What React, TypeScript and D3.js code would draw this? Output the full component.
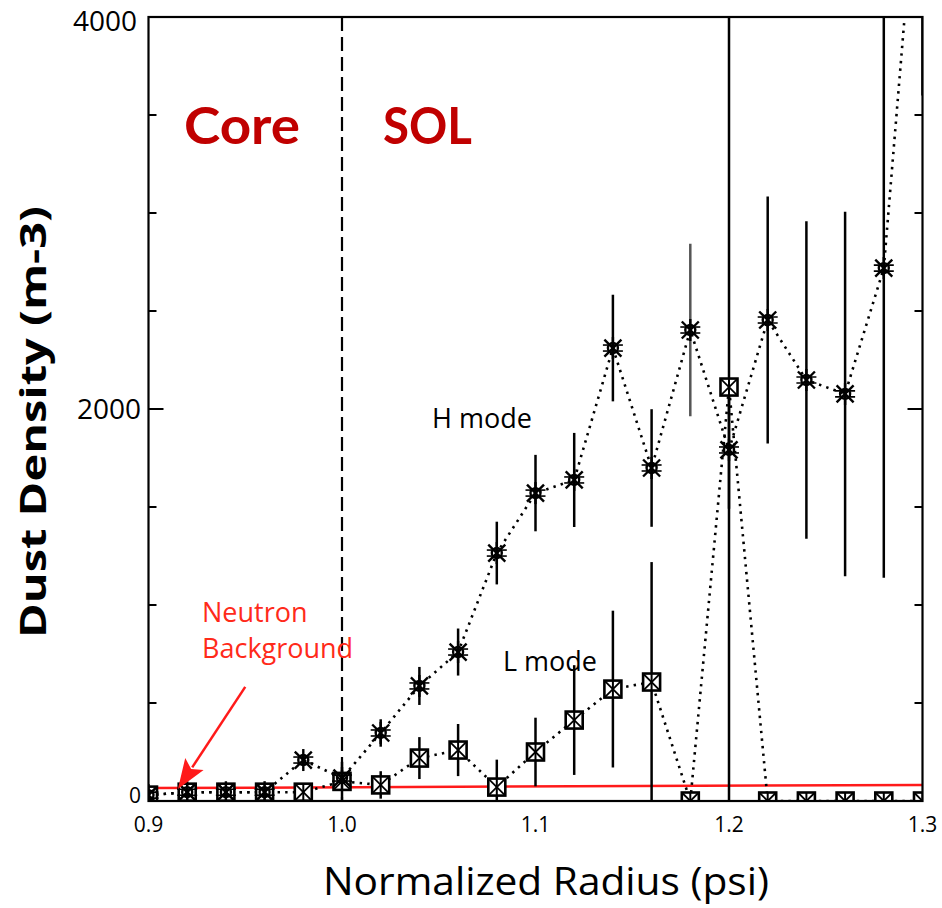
import React from "react";
import * as d3 from "d3";

const RADIUS = [0.9, 0.92, 0.94, 0.96, 0.98, 1.0, 1.02, 1.04, 1.06, 1.08, 1.1, 1.12, 1.14, 1.16, 1.18, 1.2, 1.22, 1.24, 1.26, 1.28, 1.3];
const H_MODE = [30, 45, 45, 45, 209, 117, 347, 587, 760, 1265, 1571, 1638, 2311, 1699, 2403, 1791, 2454, 2148, 2077, 2719, 5100];
const H_ERR = [0, 0, 0, 0, 20, 40, 70, 97, 120, 160, 195, 240, 272, 300, 440, 300, 630, 810, 930, 1580, 1500];
const L_MODE = [30, 45, 45, 45, 45, 100, 82, 219, 260, 71, 250, 413, 571, 607, 0, 2112, 0, 0, 0, 0, 0];
const L_ERR = [0, 0, 0, 0, 0, 100, 70, 107, 133, 140, 175, 280, 400, 612, 0, 2300, 0, 0, 0, 0, 0];
const BACKGROUND_X = [0.9, 1.3];
const BACKGROUND_Y = [66, 82];
const Y_TICKS = [0, 500, 1000, 1500, 2000, 2500, 3000, 3500, 4000];
const Y_LABELS = [0, 2000, 4000];
const X_LABELS = [0.9, 1.0, 1.1, 1.2, 1.3];

const W = 942;
const H = 908;

export default function App() {
  const x = d3.scaleLinear().domain([0.9, 1.3]).range([148.5, 922.5]);
  const y = d3.scaleLinear().domain([0, 4000]).range([801, 17]);
  const [x0, x1] = x.range();
  const [yb, yt] = y.range();

  const hPts = RADIUS.map((r, i) => [r, H_MODE[i]] as [number, number]);
  const lPts = RADIUS.map((r, i) => [r, L_MODE[i]] as [number, number]);
  const line = d3.line<[number, number]>().x((d) => x(d[0])).y((d) => y(d[1]));
  const bgLine = d3.line<number>().x((d) => x(d)).y((_, i) => y(BACKGROUND_Y[i]));

  // arrow in data coordinates
  const tail = [x(0.95), y(582)];
  const tip = [x(0.9152), y(61)];
  const dx = tip[0] - tail[0];
  const dy = tip[1] - tail[1];
  const len = Math.hypot(dx, dy);
  const ux = dx / len, uy = dy / len;
  const hl = 30, hw = 11;
  const bx = tip[0] - ux * hl, by = tip[1] - uy * hl;
  const head = `${tip[0]},${tip[1]} ${bx - uy * hw},${by + ux * hw} ${bx + ux * 6},${by + uy * 6} ${bx + uy * hw},${by - ux * hw}`;

  const fontSans = "'Open Sans', 'DejaVu Sans', sans-serif";

  return (
    <svg width={W} height={H} style={{ position: "absolute", left: 0, top: 0, background: "#fff" }}>
      <defs>
        <clipPath id="plot">
          <rect x={x0} y={yt} width={x1 - x0} height={yb - yt} />
        </clipPath>
      </defs>
      <rect x={0} y={0} width={W} height={H} fill="#fff" />

      <g clipPath="url(#plot)">
        {/* neutron background */}
        <path d={bgLine(BACKGROUND_X) || ""} stroke="#ff1a1a" strokeWidth={2.5} fill="none" />
        {/* dotted lines */}
        <path d={line(hPts) || ""} fill="none" stroke="#000" strokeWidth={2.6} strokeDasharray="2.4 5.2" />
        <path d={line(lPts) || ""} fill="none" stroke="#000" strokeWidth={2.6} strokeDasharray="2.4 5.2" />
        {/* error bars */}
        {RADIUS.map((r, i) =>
          H_ERR[i] > 0 ? (
            <line key={"he" + i} x1={x(r)} x2={x(r)} y1={y(H_MODE[i] - H_ERR[i])} y2={y(H_MODE[i] + H_ERR[i])}
              stroke={r === 1.18 ? "#555" : "#000"} strokeWidth={2.5} />
          ) : null
        )}
        {RADIUS.map((r, i) =>
          L_ERR[i] > 0 ? (
            <line key={"le" + i} x1={x(r)} x2={x(r)} y1={y(L_MODE[i] - L_ERR[i])} y2={y(L_MODE[i] + L_ERR[i])}
              stroke="#000" strokeWidth={2.5} />
          ) : null
        )}
        {/* L mode markers: boxed X */}
        {RADIUS.map((r, i) => {
          const cx = x(r), cy = y(L_MODE[i]);
          const s = 8.5;
          return (
            <g key={"lm" + i} stroke="#000" strokeWidth={2.6}>
              <rect x={cx - s} y={cy - s} width={2 * s} height={2 * s} fill="#fff" />
              <line x1={cx - s} y1={cy - s} x2={cx + s} y2={cy + s} strokeWidth={1.8} />
              <line x1={cx - s} y1={cy + s} x2={cx + s} y2={cy - s} strokeWidth={1.8} />
              <line x1={cx} y1={cy - s} x2={cx} y2={cy + s} strokeWidth={2} />
            </g>
          );
        })}
        {/* H mode markers: star */}
        {RADIUS.map((r, i) => {
          const cx = x(r), cy = y(H_MODE[i]);
          const s = 8.5;
          return (
            <g key={"hm" + i} stroke="#000" strokeWidth={2.4} fill="none">
              <line x1={cx - s} y1={cy - s} x2={cx + s} y2={cy + s} />
              <line x1={cx - s} y1={cy + s} x2={cx + s} y2={cy - s} />
              <line x1={cx - 10} y1={cy - 3} x2={cx + 10} y2={cy - 3} strokeWidth={1.6} />
              <line x1={cx - 10} y1={cy + 3} x2={cx + 10} y2={cy + 3} strokeWidth={1.6} />
              <line x1={cx} y1={cy - 11} x2={cx} y2={cy + 11} />
              <circle cx={cx} cy={cy} r={5} />
            </g>
          );
        })}
      </g>

      {/* core / SOL separatrix */}
      <line x1={x(1.0)} x2={x(1.0)} y1={yt} y2={yb} stroke="#000" strokeWidth={2.2} strokeDasharray="14 6" />

      {/* frame */}
      <rect x={x0} y={yt} width={x1 - x0} height={yb - yt} fill="none" stroke="#000" strokeWidth={2.2} />
      {Y_TICKS.map((t) => {
        const l = Y_LABELS.includes(t) ? 15 : 8;
        return (
          <g key={"yt" + t} stroke="#000" strokeWidth={2}>
            <line x1={x0} x2={x0 + l} y1={y(t)} y2={y(t)} />
            <line x1={x1} x2={x1 - l} y1={y(t)} y2={y(t)} />
          </g>
        );
      })}

      {/* y tick labels */}
      {Y_LABELS.map((t) => (
        <text key={"yl" + t} x={t === 4000 ? 137 : 141} y={Math.min(Math.max(y(t), 21), 795)} dy="0.36em"
          textAnchor="end" fontFamily={fontSans} fontSize={t === 0 ? 21 : 28} fill="#000">
          {t}
        </text>
      ))}
      {/* x tick labels */}
      {X_LABELS.map((t) => (
        <text key={"xl" + t} x={x(t)} y={832} textAnchor="middle" fontFamily={fontSans} fontSize={21} fill="#000">
          {t.toFixed(1)}
        </text>
      ))}

      {/* axis titles */}
      <text x={546} y={895} textAnchor="middle" fontFamily={fontSans} fontWeight={400} fontSize={39} fill="#000"
        textLength={446} lengthAdjust="spacingAndGlyphs">
        Normalized Radius (psi)
      </text>
      <text transform="translate(46,422) rotate(-90)" textAnchor="middle" fontFamily={fontSans} fontWeight={700}
        fontSize={35} fill="#000" textLength={432} lengthAdjust="spacingAndGlyphs">
        Dust Density (m-3)
      </text>

      {/* region labels */}
      <text x={184} y={144} fontFamily="Lato, 'Open Sans', sans-serif" fontWeight={700} fontSize={51} fill="#c00000"
        textLength={116} lengthAdjust="spacingAndGlyphs">Core</text>
      <text x={383} y={144} fontFamily="Lato, 'Open Sans', sans-serif" fontWeight={700} fontSize={51} fill="#c00000"
        textLength={89} lengthAdjust="spacingAndGlyphs">SOL</text>

      {/* series labels */}
      <text x={432} y={428} fontFamily={fontSans} fontSize={27} fill="#000">H mode</text>
      <text x={503} y={671} fontFamily={fontSans} fontSize={27} fill="#000">L mode</text>

      {/* neutron background annotation */}
      <text x={202} y={622} fontFamily={fontSans} fontSize={27} fill="#ff2a1a">Neutron</text>
      <text x={202} y={658} fontFamily={fontSans} fontSize={27} fill="#ff2a1a">Background</text>
      <line x1={tail[0]} y1={tail[1]} x2={bx + ux * 4} y2={by + uy * 4} stroke="#ff1a1a" strokeWidth={2.5} />
      <polygon points={head} fill="#ff1a1a" />
    </svg>
  );
}
